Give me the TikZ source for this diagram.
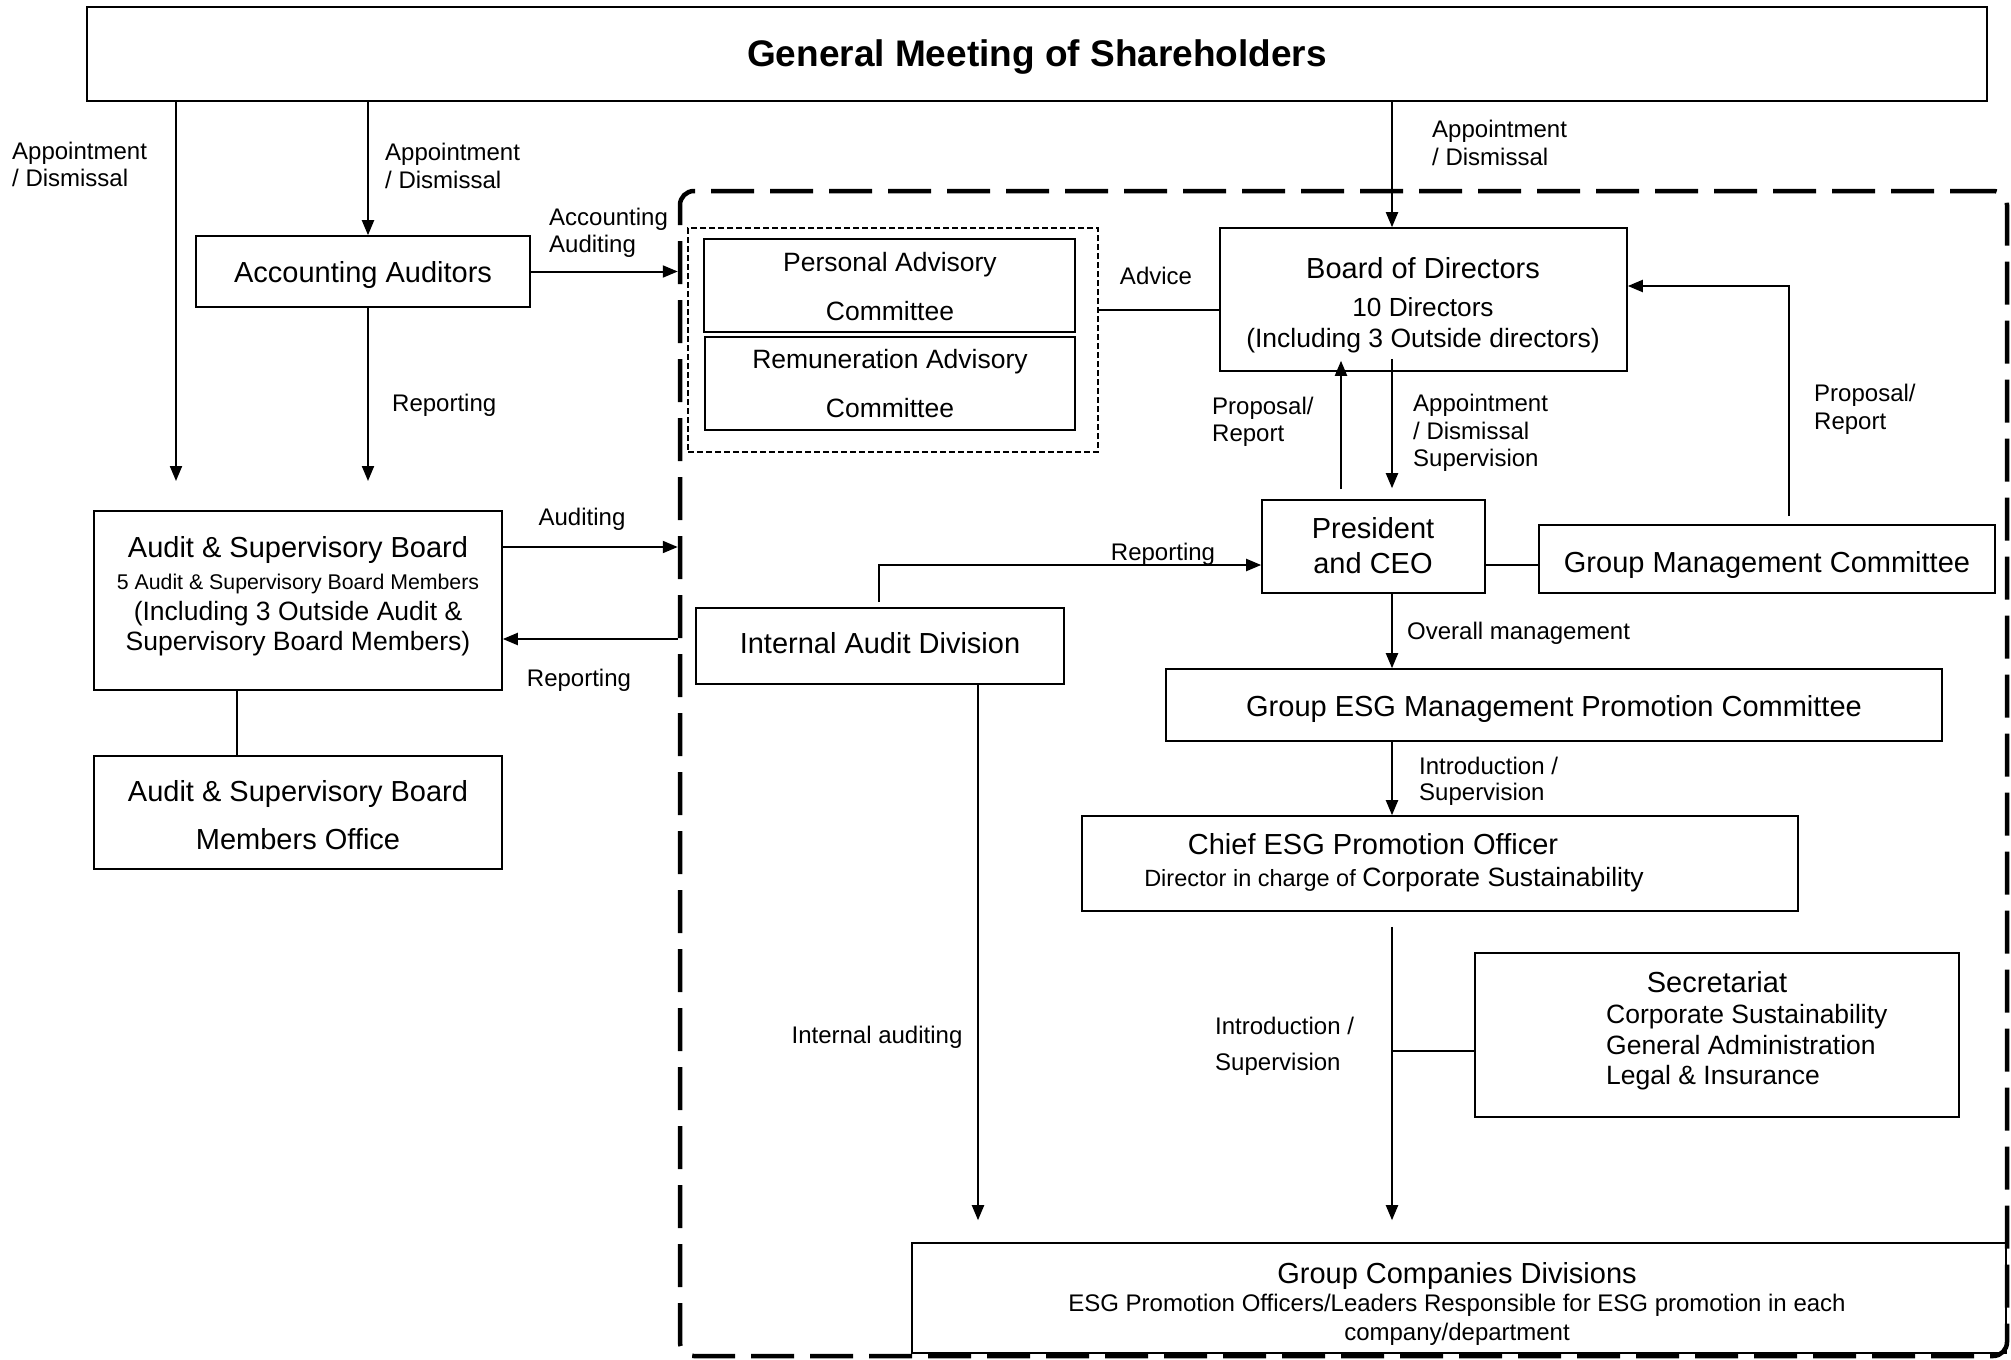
\documentclass[tikz,border=0pt]{standalone}
\usepackage{fontspec}
\setmainfont{Liberation Sans}
\usetikzlibrary{arrows.meta,fit,calc}
\tikzset{
  box/.style={draw, line width=1.6pt, inner sep=0pt},
  arr/.style={line width=2pt, -{Triangle[length=15pt,width=12pt]}},
  ln/.style={line width=1.6pt},
  tc/.style={inner sep=0pt, anchor=mid},
  tw/.style={inner sep=0pt, anchor=mid west},
  fB/.style={font=\bfseries\fontsize{37}{44}\selectfont, yshift=-10pt},
  fM/.style={font=\fontsize{29}{34}\selectfont, yshift=-7.5pt},
  fS/.style={font=\fontsize{26.5}{31}\selectfont, yshift=-6.5pt},
  fD/.style={font=\fontsize{26.2}{31}\selectfont, yshift=-6.5pt},
  fX/.style={font=\fontsize{21.3}{25}\selectfont, yshift=-5pt},
  fL/.style={font=\fontsize{24}{28}\selectfont, yshift=-5.5pt},
}
\begin{document}
\begin{tikzpicture}[x=1pt,y=-1pt]
\fill[white] (0,0) rectangle (2011,1360);
\useasboundingbox (0,0) rectangle (2011,1360);

% big dashed region
\node[draw, line width=4.5pt, dash pattern=on 43pt off 16pt, rounded corners=14pt, inner sep=0pt, fit={(680,191) (2007,1356)}] (Big) {};
% dotted committee group
\node[draw, line width=2pt, dash pattern=on 6pt off 3pt, inner sep=0pt, fit={(688,228) (1098,452)}] (Dot) {};

% boxes
\node[box, fit={(87,7) (1987,101)}] (GM) {};
\node[box, fit={(196,236) (530,307)}] (AA) {};
\node[box, fit={(94,511) (502,690)}] (ASB) {};
\node[box, fit={(94,756) (502,869)}] (Office) {};
\node[box, fit={(704,239) (1075,332)}] (PAC) {};
\node[box, fit={(705,337) (1075,430)}] (RAC) {};
\node[box, fit={(1220,228) (1627,371)}] (BoD) {};
\node[box, fit={(1262,500) (1485,593)}] (Pres) {};
\node[box, fit={(1539,525) (1995,593)}] (GMC) {};
\node[box, fit={(696,608) (1064,684)}] (IAD) {};
\node[box, fit={(1166,669) (1942,741)}] (ESG) {};
\node[box, fit={(1082,816) (1798,911)}] (Chief) {};
\node[box, fit={(1475,953) (1959,1117)}] (Sec) {};
\node[box, fit={(912,1243) (2006,1353)}] (GCD) {};

% texts in boxes
\node[tc, fB] (tGM) at (1037,54) {General Meeting of Shareholders};
\node[tc, fM] (tAA) at (363,272) {Accounting Auditors};
\node[tc, fM] (tASB1) at (298,547) {Audit \& Supervisory Board};
\node[tc, fX] (tASB2) at (298,582) {5 Audit \& Supervisory Board Members};
\node[tc, fS] (tASB3) at (298,611) {(Including 3 Outside Audit \&};
\node[tc, fS] (tASB4) at (298,641) {Supervisory Board Members)};
\node[tc, fM] (tOff1) at (298,791) {Audit \& Supervisory Board};
\node[tc, fM] (tOff2) at (298,839) {Members Office};
\node[tc, fS] (tPAC1) at (890,262) {Personal Advisory};
\node[tc, fS] (tPAC2) at (890,311) {Committee};
\node[tc, fS] (tRAC1) at (890,359) {Remuneration Advisory};
\node[tc, fS] (tRAC2) at (890,408) {Committee};
\node[tc, fM] (tBoD1) at (1423,268) {Board of Directors};
\node[tc, fD] (tBoD2) at (1423,307) {10 Directors};
\node[tc, fS] (tBoD3) at (1423,338) {(Including 3 Outside directors)};
\node[tc, fM] (tPres1) at (1373,528) {President};
\node[tc, fM] (tPres2) at (1373,563) {and CEO};
\node[tc, fM] (tGMC) at (1767,562) {Group Management Committee};
\node[tc, fM] (tIAD) at (880,643) {Internal Audit Division};
\node[tc, fM] (tESG) at (1554,706) {Group ESG Management Promotion Committee};
\node[tc, fM] (tCh1) at (1373,844) {Chief ESG Promotion Officer};
\node[tc, fS] (tCh2) at (1394,877) {{\fontsize{23.5}{28}\selectfont Director in charge of }Corporate Sustainability};
\node[tc, fM] (tSec1) at (1717,982) {Secretariat};
\node[tw, fS] (tSec2) at (1606,1014) {Corporate Sustainability};
\node[tw, fS] (tSec3) at (1606,1045) {General Administration};
\node[tw, fS] (tSec4) at (1606,1075) {Legal \& Insurance};
\node[tc, fM] (tGCD1) at (1457,1273) {Group Companies Divisions};
\node[tc, fL] (tGCD2) at (1457,1303) {ESG Promotion Officers/Leaders Responsible for ESG promotion in each};
\node[tc, fL] (tGCD3) at (1457,1332) {company/department};

% connector labels
\node[tw, fL] (l1a) at (12,151) {Appointment};
\node[tw, fL] (l1b) at (12,178) {/ Dismissal};
\node[tw, fL] (l2a) at (385,152) {Appointment};
\node[tw, fL] (l2b) at (385,180) {/ Dismissal};
\node[tw, fL] (l3a) at (549,217) {Accounting};
\node[tw, fL] (l3b) at (549,244) {Auditing};
\node[tw, fL] (l4) at (392,403) {Reporting};
\node[tc, fL] (l5) at (582,517) {Auditing};
\node[tc, fL] (l6) at (579,678) {Reporting};
\node[tc, fL] (l7) at (1156,276) {Advice};
\node[tw, fL] (l8a) at (1432,129) {Appointment};
\node[tw, fL] (l8b) at (1432,157) {/ Dismissal};
\node[tw, fL] (l9a) at (1212,406) {Proposal/};
\node[tw, fL] (l9b) at (1212,433) {Report};
\node[tw, fL] (l10a) at (1413,403) {Appointment};
\node[tw, fL] (l10b) at (1413,431) {/ Dismissal};
\node[tw, fL] (l10c) at (1413,458) {Supervision};
\node[tw, fL] (l11a) at (1814,393) {Proposal/};
\node[tw, fL] (l11b) at (1814,421) {Report};
\node[tc, fL] (l12) at (1163,552) {Reporting};
\node[tc, fL] (l13) at (877,1035) {Internal auditing};
\node[tw, fL] (l14) at (1407,631) {Overall management};
\node[tw, fL] (l15a) at (1419,766) {Introduction /};
\node[tw, fL] (l15b) at (1419,792) {Supervision};
\node[tw, fL] (l16a) at (1215,1026) {Introduction /};
\node[tw, fL] (l16b) at (1215,1062) {Supervision};

% helper coordinates
\coordinate (xL) at (176,0);
\coordinate (xAA) at (368,0);
\coordinate (pL) at (176,481);
\coordinate (pAA) at (368,481);
\coordinate (yAud) at (0,547);
\coordinate (yRep) at (0,639);
\coordinate (xOff) at (237,0);
\coordinate (yAdv) at (0,310);
\coordinate (xB) at (1392,0);
\coordinate (xP) at (1341,0);
\coordinate (yPG) at (0,565);
\coordinate (xG) at (1789,0);
\coordinate (yG) at (0,286);
\coordinate (yIR) at (0,565);
\coordinate (xIR) at (879,0);
\coordinate (xIA) at (978,0);
\coordinate (ySec) at (0,1051);

% connectors
\draw[arr] (GM.south -| xL) -- (pL);
\draw[arr] (GM.south -| xAA) -- (AA.north -| xAA);
\draw[arr] (AA.south -| xAA) -- (pAA);
\draw[arr] (AA.east) -- (AA.east -| Big.west);
\draw[arr] (ASB.east |- yAud) -- (Big.west |- yAud);
\draw[arr] (Big.west |- yRep) -- (ASB.east |- yRep);
\draw[ln] (ASB.south -| xOff) -- (Office.north -| xOff);
\draw[ln] (Dot.east |- yAdv) -- (BoD.west |- yAdv);
\draw[arr] (GM.south -| xB) -- (BoD.north -| xB);
\draw[arr] ($(Pres.north -| xP)+(0,-10)$) -- ($(BoD.south -| xP)+(0,-11)$);
\draw[arr] ($(BoD.south -| xB)+(0,-13)$) -- ($(Pres.north -| xB)+(0,-11)$);
\draw[ln] (Pres.east |- yPG) -- (GMC.west |- yPG);
\draw[arr] ($(GMC.north -| xG)+(0,-8)$) |- (BoD.east |- yG);
\draw[arr] ($(IAD.north -| xIR)+(0,-5)$) |- (Pres.west |- yIR);
\draw[arr] (IAD.south -| xIA) -- ($(GCD.north -| xIA)+(0,-22)$);
\draw[arr] (Pres.south -| xB) -- (ESG.north -| xB);
\draw[arr] (ESG.south -| xB) -- (Chief.north -| xB);
\draw[arr] ($(Chief.south -| xB)+(0,15)$) -- ($(GCD.north -| xB)+(0,-22)$);
\draw[ln] (xB |- ySec) -- (Sec.west |- ySec);
\end{tikzpicture}
\end{document}
